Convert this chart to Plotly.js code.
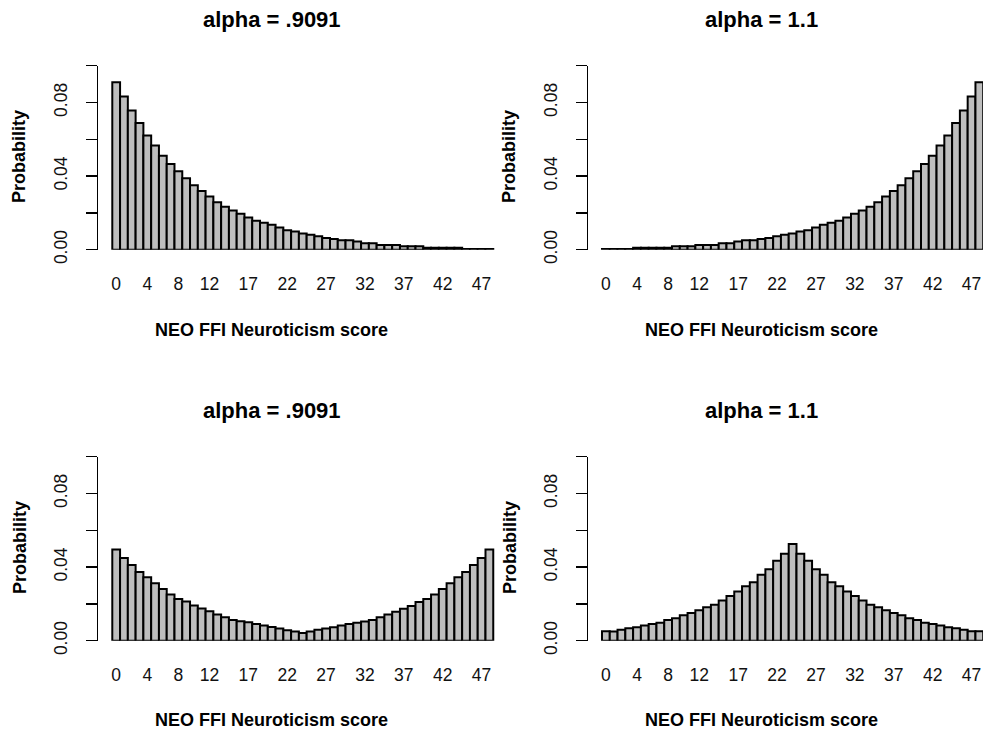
<!DOCTYPE html>
<html>
<head>
<meta charset="utf-8">
<script src="https://cdn.plot.ly/plotly-3.0.1.min.js"></script>
<style>
  html, body { margin: 0; padding: 0; background: #ffffff; overflow: hidden; }
  #chart { width: 983px; height: 731px; }
</style>
</head>
<body>
<div id="chart"></div>
<script>
// ---- data ----
const scores = [0,1,2,3,4,5,6,7,8,9,10,11,12,13,14,15,16,17,18,19,20,21,22,23,24,
                25,26,27,28,29,30,31,32,33,34,35,36,37,38,39,40,41,42,43,44,45,46,47,48];
const tickPositions = [0,4,8,12,17,22,27,32,37,42,47];
const tickLabels = ["0","4","8","12","17","22","27","32","37","42","47"];
const yTickValues = [0,0.02,0.04,0.06,0.08,0.10];
const yTickLabels = ["0.00","","0.04","","0.08",""];
const panelTitles = ["alpha = .9091","alpha = 1.1","alpha = .9091","alpha = 1.1"];
const xLabel = "NEO FFI Neuroticism score";
const yLabel = "Probability";

const probTopLeft = [0.0910,0.0832,0.0756,0.0689,0.0620,0.0566,0.0511,0.0466,0.0426,0.0388,
  0.0350,0.0319,0.0289,0.0258,0.0234,0.0213,0.0196,0.0175,0.0158,0.0146,
  0.0135,0.0120,0.0106,0.0099,0.0088,0.0081,0.0073,0.0064,0.0058,0.0051,
  0.0051,0.0044,0.0035,0.0035,0.0026,0.0026,0.0026,0.0019,0.0019,0.0019,
  0.0011,0.0011,0.0011,0.0011,0.0011,0.0004,0.0004,0.0004,0.0004];

const probTopRight = [0.0004,0.0004,0.0004,0.0004,0.0011,0.0011,0.0011,0.0011,0.0011,0.0019,
  0.0019,0.0019,0.0026,0.0026,0.0026,0.0035,0.0035,0.0044,0.0051,0.0051,
  0.0058,0.0064,0.0073,0.0081,0.0088,0.0099,0.0106,0.0120,0.0135,0.0146,
  0.0158,0.0175,0.0196,0.0213,0.0234,0.0258,0.0289,0.0319,0.0350,0.0388,
  0.0426,0.0466,0.0511,0.0566,0.0620,0.0689,0.0756,0.0832,0.0910];

const probBottomLeft = [0.0495,0.0450,0.0412,0.0374,0.0345,0.0312,0.0281,0.0251,0.0227,0.0213,
  0.0191,0.0175,0.0160,0.0142,0.0127,0.0113,0.0106,0.0100,0.0091,0.0082,
  0.0075,0.0066,0.0057,0.0050,0.0042,0.0050,0.0059,0.0066,0.0073,0.0082,
  0.0091,0.0098,0.0104,0.0113,0.0127,0.0142,0.0158,0.0173,0.0189,0.0211,
  0.0227,0.0251,0.0281,0.0312,0.0345,0.0374,0.0412,0.0450,0.0495];

const probBottomRight = [0.0051,0.0050,0.0060,0.0068,0.0073,0.0082,0.0091,0.0098,0.0113,0.0122,
  0.0138,0.0151,0.0165,0.0182,0.0196,0.0218,0.0243,0.0267,0.0296,0.0318,
  0.0358,0.0388,0.0434,0.0472,0.0526,0.0472,0.0434,0.0388,0.0358,0.0318,
  0.0296,0.0267,0.0243,0.0218,0.0196,0.0182,0.0165,0.0151,0.0138,0.0122,
  0.0113,0.0098,0.0091,0.0082,0.0073,0.0068,0.0060,0.0051,0.0051];

// ---- layout geometry (pixels) ----
const W = 983, H = 731;
const FONT = '"Liberation Sans", Arial, Helvetica, sans-serif';
const px = v => v / W;
const py = v => 1 - v / H;

const panels = [
  {vals: probTopLeft,     xd:[98.3, 505],  xr:[-2.30, 50.01], yd:[65.7, 249.7], cx:271.5, ty:19.1, lx:330.3, ly:156.5, ax:19.5},
  {vals: probTopRight,    xd:[588.3, 983], xr:[-2.26, 48.47], yd:[65.7, 249.7], cx:761.5, ty:19.1, lx:330.3, ly:156.5, ax:509.5},
  {vals: probBottomLeft,  xd:[98.3, 505],  xr:[-2.30, 50.01], yd:[456.7, 640.7], cx:271.5, ty:410.1, lx:720.3, ly:547.5, ax:19.5},
  {vals: probBottomRight, xd:[588.3, 983], xr:[-2.26, 48.47], yd:[456.7, 640.7], cx:761.5, ty:410.1, lx:720.3, ly:547.5, ax:509.5}
];

const data = [];
const layout = {
  width: W, height: H, autosize: false,
  margin: {l:0, r:0, t:0, b:0, pad:0},
  paper_bgcolor: '#ffffff', plot_bgcolor: '#ffffff',
  showlegend: false, bargap: 0,
  font: {family: FONT, color: '#000000', size: 17},
  annotations: []
};

panels.forEach((p, i) => {
  const n = i === 0 ? '' : String(i + 1);
  data.push({
    type: 'bar', x: scores, y: p.vals,
    xaxis: 'x' + n, yaxis: 'y' + n,
    width: 1,
    marker: {color: '#bebebe', line: {color: '#000000', width: 2}},
    hoverinfo: 'skip'
  });
  layout['xaxis' + n] = {
    domain: [px(p.xd[0]), px(p.xd[1])], range: p.xr, anchor: 'y' + n,
    showline: false, showgrid: false, zeroline: false, ticks: '',
    tickmode: 'array', tickvals: tickPositions, ticktext: tickLabels,
    tickfont: {family: FONT, size: 17.5, color: '#111111'},
    ticklabelstandoff: 22, fixedrange: true
  };
  layout['yaxis' + n] = {
    domain: [py(p.yd[1]), py(p.yd[0])], range: [0, 0.1], anchor: 'x' + n,
    showline: true, linecolor: '#000000', linewidth: 1.5,
    showgrid: false, zeroline: false,
    ticks: 'outside', ticklen: 11, tickwidth: 1.5, tickcolor: '#000000',
    tickmode: 'array', tickvals: yTickValues, ticktext: yTickLabels,
    tickangle: -90, tickfont: {family: FONT, size: 17.5, color: '#111111'},
    ticklabelstandoff: 12, fixedrange: true
  };
  layout.annotations.push(
    {text: panelTitles[i], x: px(p.cx), y: py(p.ty), xref: 'paper', yref: 'paper',
     xanchor: 'center', yanchor: 'middle', showarrow: false,
     font: {family: FONT, size: 22, color: '#000000', weight: 'bold'}},
    {text: xLabel, x: px(p.cx), y: py(p.lx), xref: 'paper', yref: 'paper',
     xanchor: 'center', yanchor: 'middle', showarrow: false,
     font: {family: FONT, size: 18, color: '#000000', weight: 'bold'}},
    {text: yLabel, x: px(p.ax), y: py(p.ly), xref: 'paper', yref: 'paper',
     xanchor: 'center', yanchor: 'middle', showarrow: false, textangle: -90,
     font: {family: FONT, size: 18, color: '#000000', weight: 'bold'}}
  );
});

Plotly.newPlot('chart', data, layout, {displayModeBar: false, staticPlot: true});
</script>
</body>
</html>
